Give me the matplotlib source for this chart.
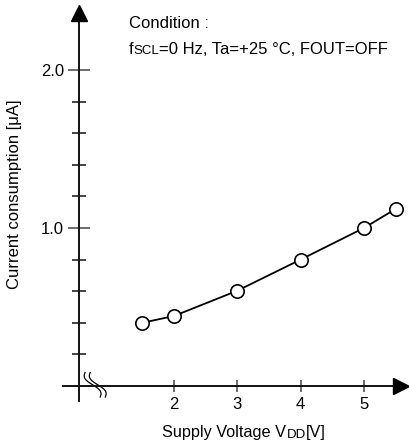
import numpy as np
import matplotlib
matplotlib.use('Agg')
import matplotlib.pyplot as plt
from matplotlib.offsetbox import TextArea, HPacker, AnchoredOffsetbox
from matplotlib.ticker import FixedLocator

plt.rcParams['font.family'] = ['Liberation Sans', 'DejaVu Sans']

# data
supply_voltage = [1.5, 2.0, 3.0, 4.0, 5.0, 5.5]
current_ua = [0.40, 0.443, 0.603, 0.80, 1.00, 1.12]
x_ticks = [2, 3, 4, 5]
y_major = [1.0, 2.0]
y_minor = [0.2, 0.4, 0.6, 0.8, 1.2, 1.4, 1.6, 1.8]

W, H, DPI = 409, 443, 100
fig = plt.figure(figsize=(W / DPI, H / DPI), dpi=DPI)
ax = fig.add_axes([0, 0, 1, 1])
ax.patch.set_alpha(0)

# scale chosen so the axes land where they sit in the reference
ax.set_xlim(-0.749, 5.712)
ax.set_ylim(-0.361, 2.443)

ax.plot(supply_voltage, current_ua, color='black', lw=1.3,
        marker='o', ms=9.6, mfc='white', mec='black', mew=1.2, zorder=5)

# axes lines
for side in ['top', 'right']:
    ax.spines[side].set_visible(False)
ax.spines['left'].set_position(('data', 0.5))
ax.spines['bottom'].set_position(('data', 0.0))
ax.spines['left'].set_bounds(-0.095, 2.32)
ax.spines['bottom'].set_bounds(0.246, 5.5)
for side in ['left', 'bottom']:
    ax.spines[side].set_linewidth(1.4)
    ax.spines[side].set_color('#111111')

# arrow heads
ax.plot([0.5], [2.36], marker='^', ms=12, color='black', clip_on=False, zorder=6)
ax.plot([5.58], [0.0], marker='>', ms=12, color='black', clip_on=False, zorder=6)

# ticks
ax.xaxis.set_major_locator(FixedLocator(x_ticks))
ax.yaxis.set_major_locator(FixedLocator(y_major))
ax.yaxis.set_minor_locator(FixedLocator(y_minor))
ax.xaxis.set_minor_locator(FixedLocator([]))
ax.tick_params(axis='y', which='major', direction='inout', length=16, width=1.1,
               color='#444444', labelsize=12, pad=3)
ax.tick_params(axis='y', which='minor', direction='inout', length=9.5, width=1.1,
               color='#111111')
ax.tick_params(axis='x', which='major', direction='inout', length=8, width=1.1,
               color='#444444', labelsize=12, pad=4)
ax.set_yticklabels(['1.0', '2.0'])
ax.set_xticklabels([str(v) for v in x_ticks])

# axis break mark
t = np.linspace(0, 1, 40)
for x0 in [0.594, 0.675]:
    bx = x0 + 0.24 * t - 0.06 * np.sin(2 * np.pi * t)
    by = 0.085 - 0.155 * t
    ax.plot(bx, by, color='black', lw=0.9, clip_on=False)

# labels
fig.text(15 / W, 1 - 194 / H, 'Current consumption [\u03bcA]', rotation=90,
         ha='center', va='center', fontsize=12)


def mixed_text(parts, x, y, loc):
    boxes = [TextArea(s, textprops=dict(fontsize=fs, color='black')) for s, fs in parts]
    pack = HPacker(children=boxes, align='baseline', pad=0, sep=0)
    ab = AnchoredOffsetbox(loc=loc, child=pack, frameon=False, pad=0, borderpad=0,
                           bbox_to_anchor=(x, y), bbox_transform=fig.transFigure)
    fig.add_artist(ab)


mixed_text([('Supply Voltage V', 11.7), ('DD', 9.5), ('[V]', 11.7)],
           244 / W, 1 - 433 / H, 'center')
fig.text(129 / W, 1 - 24 / H, 'Condition :', ha='left', va='center', fontsize=12)
mixed_text([('f', 12), ('SCL', 9.5), ('=0 Hz, Ta=+25 \u00b0C, FOUT=OFF', 12)],
           129 / W, 1 - 49 / H, 'center left')

fig.savefig('out.png', dpi=DPI)
